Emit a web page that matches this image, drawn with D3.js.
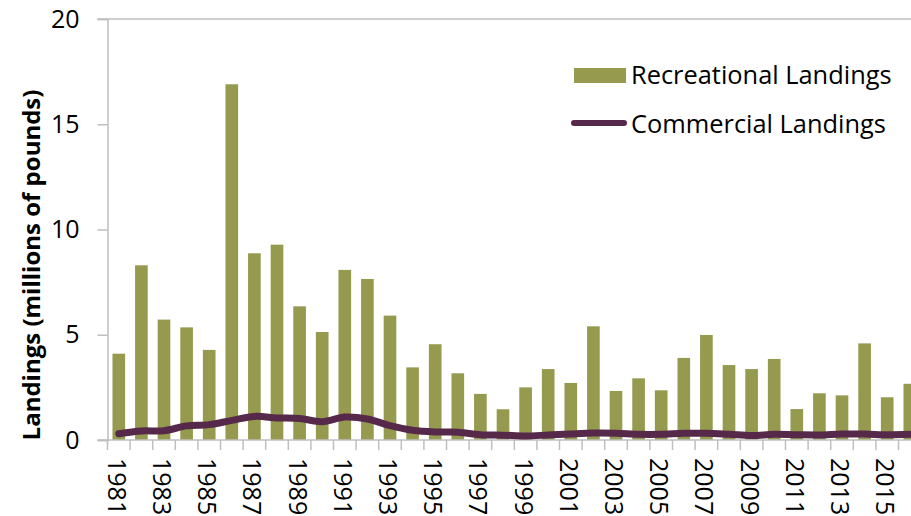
<!DOCTYPE html>
<html>
<head>
<meta charset="utf-8">
<script src="https://cdn.jsdelivr.net/npm/d3@7"></script>
<style>
  html, body { margin: 0; padding: 0; background: #fff; overflow: hidden; }
  svg { display: block; }
  text { font-family: "Open Sans", "Liberation Sans", sans-serif; fill: #000; }
</style>
</head>
<body>
<svg id="chart" width="911" height="516"></svg>
<script>
const years = [1981,1982,1983,1984,1985,1986,1987,1988,1989,1990,1991,1992,1993,1994,1995,1996,1997,1998,
               1999,2000,2001,2002,2003,2004,2005,2006,2007,2008,2009,2010,2011,2012,2013,2014,2015,2016];
const recreational = [4.1,8.3,5.72,5.35,4.28,16.9,8.87,9.28,6.35,5.13,8.08,7.65,5.91,3.45,4.55,3.17,2.19,1.46,
                      2.50,3.37,2.71,5.40,2.33,2.93,2.36,3.90,4.99,3.56,3.37,3.85,1.47,2.22,2.12,4.59,2.03,2.67];
const commercial = [0.30,0.43,0.44,0.67,0.73,0.93,1.12,1.05,1.02,0.87,1.09,1.00,0.68,0.46,0.38,0.37,0.25,0.23,
                    0.19,0.24,0.29,0.33,0.32,0.27,0.27,0.32,0.32,0.27,0.21,0.27,0.25,0.24,0.28,0.28,0.25,0.27];
const yTicks = [0,5,10,15,20];
const seriesNames = ["Recreational Landings","Commercial Landings"];
const yTitle = "Landings (millions of pounds)";

const barColor = "#959A4F";
const lineColor = "#56284A";
const axisColor = "#BFBFBF";

const svg = d3.select("#chart");
const x0 = 107.5, step = 22.6;
const x = d3.scaleBand().domain(years).range([x0, x0 + step * years.length])
  .paddingInner(0.44).paddingOuter(0.22);
const y = d3.scaleLinear().domain([0, 20]).range([440, 19]);

// top line at 20
svg.append("line").attr("x1", x0 - 10).attr("x2", 911).attr("y1", y(20)).attr("y2", y(20))
  .attr("stroke", axisColor).attr("stroke-width", 1.5);

// bars
svg.append("g").selectAll("rect").data(years).join("rect")
  .attr("x", d => x(d)).attr("width", x.bandwidth())
  .attr("y", (d, i) => y(recreational[i]))
  .attr("height", (d, i) => y(0) - y(recreational[i]))
  .attr("fill", barColor);

// y axis
const yAxis = d3.axisLeft(y).tickValues(yTicks).tickSize(10).tickPadding(18).tickFormat(d3.format("d"));
const gy = svg.append("g").attr("transform", `translate(${x0},0)`).call(yAxis);
gy.select(".domain").attr("stroke", axisColor).attr("stroke-width", 1.5);
gy.selectAll(".tick line").attr("stroke", axisColor).attr("stroke-width", 1.5);
gy.selectAll(".tick text").style("font-size", "25px").style("font-family", "Open Sans").attr("fill", "#000");

// x axis line and ticks at band boundaries
const gx = svg.append("g");
gx.append("line").attr("x1", x0 - 10).attr("x2", 911).attr("y1", y(0)).attr("y2", y(0))
  .attr("stroke", axisColor).attr("stroke-width", 1.5);
const bounds = years.map(d => x(d) - x.step() * 0.22);
gx.selectAll("line.tk").data(bounds).join("line").attr("class", "tk")
  .attr("x1", d => d).attr("x2", d => d).attr("y1", y(0)).attr("y2", y(0) + 10)
  .attr("stroke", axisColor).attr("stroke-width", 1.5);
gx.selectAll("text").data(years.filter((d, i) => i % 2 === 0)).join("text")
  .attr("transform", d => `translate(${x(d) + x.bandwidth() / 2 - 1},458) rotate(90)`)
  .attr("text-anchor", "start").attr("dominant-baseline", "central")
  .style("font-size", "25px")
  .text(d => d);

// commercial line
const line = d3.line()
  .x((d, i) => x(years[i]) + x.bandwidth() / 2)
  .y(d => y(d))
  .curve(d3.curveCatmullRom.alpha(0.5));
svg.append("path").datum(commercial).attr("d", line)
  .attr("fill", "none").attr("stroke", lineColor).attr("stroke-width", 7)
  .attr("stroke-linecap", "round").attr("stroke-linejoin", "round");

// y title
svg.append("text").attr("transform", "translate(30,265) rotate(-90)")
  .attr("text-anchor", "middle").attr("dominant-baseline", "central")
  .style("font-size", "24px").style("font-weight", "bold").text(yTitle);

// legend
const lg = svg.append("g");
lg.append("rect").attr("x", 574).attr("y", 68).attr("width", 52).attr("height", 15).attr("fill", barColor);
lg.append("text").attr("x", 631).attr("y", 84).style("font-size", "25.4px").text(seriesNames[0]);
lg.append("line").attr("x1", 574).attr("x2", 624).attr("y1", 123).attr("y2", 123)
  .attr("stroke", lineColor).attr("stroke-width", 6).attr("stroke-linecap", "round");
lg.append("text").attr("x", 631).attr("y", 133).style("font-size", "25.4px").text(seriesNames[1]);
</script>
</body>
</html>
